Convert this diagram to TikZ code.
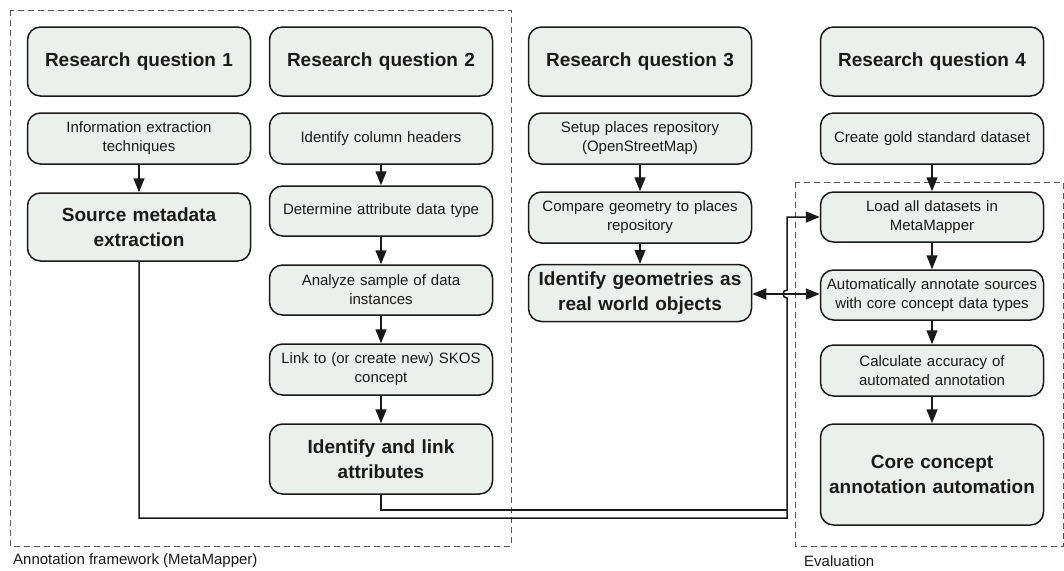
\documentclass[tikz,border=0pt]{standalone}
\usepackage{fontspec}
\setmainfont{Liberation Sans}
\usetikzlibrary{arrows.meta}
\definecolor{boxfill}{HTML}{EBF0EC}
\definecolor{ink}{HTML}{1A1A1A}
\tikzset{
  box/.style={draw=ink, line width=1.5pt, fill=boxfill, rounded corners=13pt,
    align=center, inner sep=0pt, text width=220pt, minimum width=223pt, text=ink},
  sm/.style={box, font=\fontsize{15}{19}\selectfont},
  bg/.style={box, font=\bfseries\fontsize{19}{25}\selectfont},
  tip/.tip={Triangle[length=14pt,width=11pt]},
  arr/.style={-tip, line width=1.5pt, draw=ink},
  arrboth/.style={tip-tip, line width=1.5pt, draw=ink},
  link/.style={line width=1.5pt, draw=ink},
  frame/.style={draw=black!65, line width=0.9pt, dash pattern=on 6pt off 4pt},
  lbl/.style={font=\fontsize{15}{18}\selectfont, text=ink, anchor=west, inner sep=0pt}
}
\begin{document}
\begin{tikzpicture}[x=1pt, y=-1pt]
\useasboundingbox (0,0) rectangle (1064,570);
% frames
\draw[frame] (10,10) rectangle (511,546);
\draw[frame] (795,182) rectangle (1063.5,546);
\node[lbl] (fa) at (13,561) {Annotation framework (MetaMapper)};
\node[lbl] (fe) at (804,561) {Evaluation};
% column 1
\node[bg, minimum height=69pt] (q1) at (139,61.5) {Research question 1};
\node[sm, minimum height=51pt] (i1) at (139,138.5) {Information extraction\\techniques};
\node[bg, minimum height=68pt] (s1) at (139,227) {Source metadata\\extraction};
% column 2
\node[bg, minimum height=69pt] (q2) at (381,61.5) {Research question 2};
\node[sm, minimum height=51pt] (h2) at (381,138.5) {Identify column headers};
\node[sm, minimum height=50pt] (d2) at (381,211) {Determine attribute data type};
\node[sm, minimum height=50pt] (a2) at (381,290) {Analyze sample of data\\instances};
\node[sm, minimum height=51pt] (l2) at (381,369.5) {Link to (or create new) SKOS\\concept};
\node[bg, minimum height=70pt] (i2) at (381,459) {Identify and link\\attributes};
% column 3
\node[bg, minimum height=69pt] (q3) at (640,61.5) {Research question 3};
\node[sm, minimum height=51pt] (p3) at (640,138.5) {Setup places repository\\(OpenStreetMap)};
\node[sm, minimum height=51pt] (c3) at (640,217.5) {Compare geometry to places\\repository};
\node[bg, minimum height=57pt] (g3) at (640,293) {Identify geometries as\\real world objects};
% column 4
\node[bg, minimum height=69pt] (q4) at (932,61.5) {Research question 4};
\node[sm, minimum height=51pt] (s4) at (932,138.5) {Create gold standard dataset};
\node[sm, minimum height=50pt] (l4) at (932,217) {Load all datasets in\\MetaMapper};
\node[sm, minimum height=50pt] (a4) at (932,295) {Automatically annotate sources\\with core concept data types};
\node[sm, minimum height=51pt] (c4) at (932,370.5) {Calculate accuracy of\\automated annotation};
\node[bg, minimum height=101pt] (k4) at (932,474.5) {Core concept\\annotation automation};
% vertical arrows
\draw[arr] (i1) -- (s1);
\draw[arr] (h2) -- (d2);
\draw[arr] (d2) -- (a2);
\draw[arr] (a2) -- (l2);
\draw[arr] (l2) -- (i2);
\draw[arr] (p3) -- (c3);
\draw[arr] (c3) -- (g3);
\draw[arr] (s4) -- (l4);
\draw[arr] (l4) -- (a4);
\draw[arr] (a4) -- (c4);
\draw[arr] (c4) -- (k4);
% long connectors into "Load all datasets"
\coordinate (jc) at (787,294);
\draw[link] (i2.south) |- (787,510);
\draw[arr] (s1.south) |- (787,518) -- (787,298)
   arc[start angle=90, end angle=270, radius=4] |- (l4.west);
% double arrow with jump
\draw[arrboth] (g3.east |- jc) -- (a4.west |- jc);
\end{tikzpicture}
\end{document}
